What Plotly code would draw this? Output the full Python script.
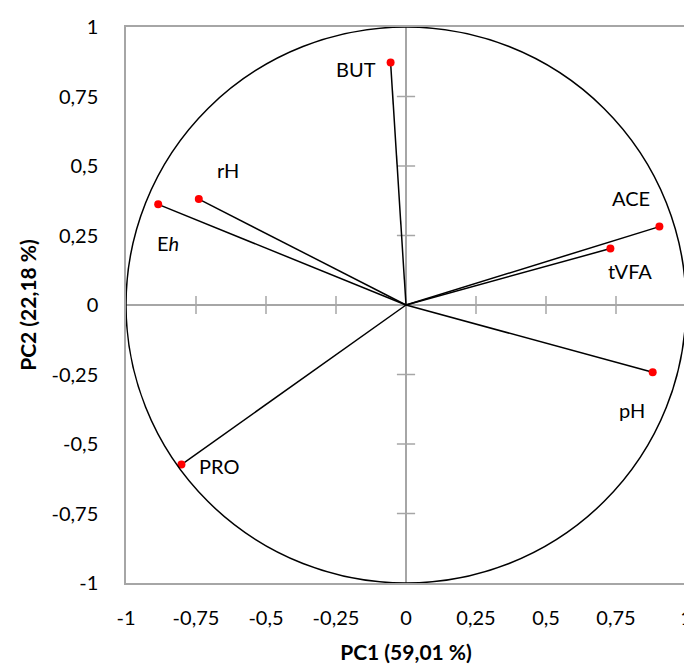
import plotly.graph_objects as go

labels = ["BUT", "rH", "E<i>h</i>", "ACE", "tVFA", "pH", "PRO"]
pc1 = [-0.055, -0.74, -0.885, 0.905, 0.73, 0.881, -0.802]
pc2 = [0.872, 0.381, 0.362, 0.282, 0.203, -0.242, -0.574]

tick_vals = [-1, -0.75, -0.5, -0.25, 0, 0.25, 0.5, 0.75, 1]
tick_text = ["-1", "-0,75", "-0,5", "-0,25", "0", "0,25", "0,5", "0,75", "1"]

# label offsets in pixels (dx, dy) relative to the point
label_offsets = [(-35, -6), (29, 29), (10, -39), (-28, 29), (20, -22), (-21, -38), (38, -1)]

font_family = "Lato, 'Open Sans', sans-serif"
grey = "#A6A6A6"
fig = go.Figure()

# cross tick marks on the zero axes
inner_ticks = [v for v in tick_vals if v not in (-1, 0, 1)]
fig.add_trace(go.Scatter(x=inner_ticks, y=[0] * len(inner_ticks), mode="markers",
                         marker=dict(symbol="line-ns-open", size=13, color=grey, line=dict(color=grey, width=1.5)),
                         hoverinfo="skip", showlegend=False))
fig.add_trace(go.Scatter(x=[0] * len(inner_ticks), y=inner_ticks, mode="markers",
                         marker=dict(symbol="line-ew-open", size=13, color=grey, line=dict(color=grey, width=1.5)),
                         hoverinfo="skip", showlegend=False))

# vectors
for x, y in zip(pc1, pc2):
    fig.add_trace(go.Scatter(x=[0, x], y=[0, y], mode="lines",
                             line=dict(color="black", width=1.5), showlegend=False, hoverinfo="skip"))

fig.add_trace(go.Scatter(x=pc1, y=pc2, mode="markers",
                         marker=dict(color="#FF0000", size=8), showlegend=False))

for lab, x, y, (dx, dy) in zip(labels, pc1, pc2, label_offsets):
    fig.add_annotation(x=x, y=y, text=lab, showarrow=False, xshift=dx, yshift=dy,
                       font=dict(size=20, color="black", family=font_family))

fig.add_shape(type="circle", xref="x", yref="y", x0=-1, y0=-1, x1=1, y1=1,
              line=dict(color="black", width=1.5), layer="above")

axis_common = dict(range=[-1, 1], tickvals=tick_vals, ticktext=tick_text, automargin=False,
                   showgrid=False, zeroline=True, zerolinecolor=grey, zerolinewidth=1.5,
                   showline=True, linecolor=grey, linewidth=1.5, mirror=True,
                   ticks="", tickfont=dict(size=20, color="black", family=font_family))

fig.update_layout(
    width=684, height=660,
    margin=dict(l=118, r=6, t=19, b=85),
    plot_bgcolor="white", paper_bgcolor="white",
    xaxis=dict(**axis_common, ticklabelstandoff=16,
               title=dict(text="<b>PC1 (59,01 %)</b>", font=dict(size=21, color="black", family=font_family), standoff=18)),
    yaxis=dict(**axis_common, ticklabelstandoff=22,
               title=dict(text="<b>PC2 (22,18 %)</b>", font=dict(size=21, color="black", family=font_family), standoff=9)),
)

fig.write_html("out.html")
